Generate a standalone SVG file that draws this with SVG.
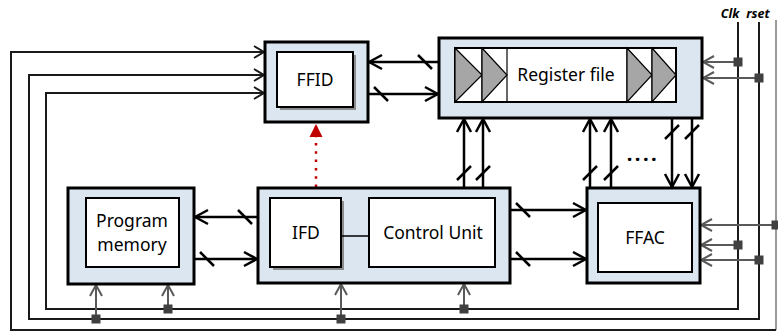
<svg xmlns="http://www.w3.org/2000/svg" width="778" height="335" viewBox="0 0 778 335">
<style>
.outer{fill:#dce6f1;stroke:#000;stroke-width:3}
.inner{fill:#fff;stroke:#000;stroke-width:2}
.shadow{fill:#8c8c8c}
.lbl{font-family:"Noto Sans","Liberation Sans",sans-serif;font-size:17.5px;fill:#000;text-anchor:middle}
.sig{font-family:"Noto Sans","Liberation Sans",sans-serif;font-size:12.5px;font-weight:bold;font-style:italic;fill:#000;text-anchor:middle}
.bus{fill:none;stroke:#000;stroke-width:2.5}
.slash{stroke:#000;stroke-width:2.5}
.loop{fill:none;stroke:#1a1a1a;stroke-width:2}
.gin{fill:none;stroke:#595959;stroke-width:2}
.sq{fill:#404040}
.tri{fill:#a6a6a6;stroke:#000;stroke-width:1.2}
</style>
<defs>
<marker id="ab" markerUnits="userSpaceOnUse" markerWidth="18" markerHeight="18" viewBox="0 0 18 18" refX="16" refY="9" orient="auto">
<path d="M3,2 L16,9 L3,16" fill="none" stroke="#000" stroke-width="2.5"/>
</marker>
<marker id="al" markerUnits="userSpaceOnUse" markerWidth="16" markerHeight="16" viewBox="0 0 16 16" refX="14" refY="8" orient="auto">
<path d="M4,2 L14,8 L4,14" fill="none" stroke="#1a1a1a" stroke-width="2"/>
</marker>
<marker id="ag" markerUnits="userSpaceOnUse" markerWidth="16" markerHeight="16" viewBox="0 0 16 16" refX="14" refY="8" orient="auto">
<path d="M3,2 L14,8 L3,14" fill="none" stroke="#595959" stroke-width="2"/>
</marker>
<marker id="ar" markerUnits="userSpaceOnUse" markerWidth="16" markerHeight="16" viewBox="0 0 16 16" refX="14" refY="8" orient="auto">
<path d="M1,1.5 L14,8 L1,14.5 Z" fill="#c00000"/>
</marker>
</defs>

<g id="connectors">
<path d="M776,20 V330" fill="none" stroke="#9a9a9a" stroke-width="2"/>
<path class="loop" d="M776,330 H11 V52 H264" marker-end="url(#al)"/>
<path class="loop" d="M759,22 V319 H29 V75 H264" marker-end="url(#al)"/>
<path class="loop" d="M738,22 V309 H46 V93 H264" marker-end="url(#al)"/>
<path class="gin" d="M738,62 H703" marker-end="url(#ag)"/>
<path class="gin" d="M759,78 H703" marker-end="url(#ag)"/>
<path class="gin" d="M776,225 H701" marker-end="url(#ag)"/>
<path class="gin" d="M738,245 H701" marker-end="url(#ag)"/>
<path class="gin" d="M759,260 H701" marker-end="url(#ag)"/>
<path class="gin" d="M96,319 V285" marker-end="url(#ag)"/>
<path class="gin" d="M168,309 V285" marker-end="url(#ag)"/>
<path class="gin" d="M341,319 V284" marker-end="url(#ag)"/>
<path class="gin" d="M464,309 V284" marker-end="url(#ag)"/>
<rect class="sq" x="733.5" y="57.5" width="9" height="9"/>
<rect class="sq" x="754.5" y="73.5" width="9" height="9"/>
<rect class="sq" x="771.5" y="220.5" width="9" height="9"/>
<rect class="sq" x="733.5" y="240.5" width="9" height="9"/>
<rect class="sq" x="754.5" y="255.5" width="9" height="9"/>
<rect class="sq" x="91.5" y="314.5" width="9" height="9"/>
<rect class="sq" x="163.5" y="304.5" width="9" height="9"/>
<rect class="sq" x="336.5" y="314.5" width="9" height="9"/>
<rect class="sq" x="459.5" y="304.5" width="9" height="9"/>
<path class="bus" d="M439,62 H369" marker-end="url(#ab)"/>
<line class="slash" x1="418" y1="55" x2="432" y2="69"/>
<path class="bus" d="M368,94 H438" marker-end="url(#ab)"/>
<line class="slash" x1="374" y1="87" x2="388" y2="101"/>
<path class="bus" d="M258,217 H195" marker-end="url(#ab)"/>
<line class="slash" x1="238" y1="210" x2="252" y2="224"/>
<path class="bus" d="M194,259 H257" marker-end="url(#ab)"/>
<line class="slash" x1="200" y1="252" x2="214" y2="266"/>
<path class="bus" d="M510,210 H586" marker-end="url(#ab)"/>
<line class="slash" x1="516" y1="203" x2="530" y2="217"/>
<path class="bus" d="M510,259 H586" marker-end="url(#ab)"/>
<line class="slash" x1="516" y1="252" x2="530" y2="266"/>
<path class="bus" d="M464,188 V119" marker-end="url(#ab)"/>
<line class="slash" x1="457" y1="180" x2="471" y2="166"/>
<path class="bus" d="M483,188 V119" marker-end="url(#ab)"/>
<line class="slash" x1="476" y1="180" x2="490" y2="166"/>
<path class="bus" d="M590,188 V119" marker-end="url(#ab)"/>
<line class="slash" x1="583" y1="180" x2="597" y2="166"/>
<path class="bus" d="M611,188 V119" marker-end="url(#ab)"/>
<line class="slash" x1="604" y1="180" x2="618" y2="166"/>
<path class="bus" d="M672,118 V187" marker-end="url(#ab)"/>
<line class="slash" x1="665" y1="139" x2="679" y2="125"/>
<path class="bus" d="M692,118 V187" marker-end="url(#ab)"/>
<line class="slash" x1="685" y1="139" x2="699" y2="125"/>
<path d="M316,187 V124" fill="none" stroke="#c00000" stroke-width="2.5" stroke-dasharray="2.5 5.8" marker-end="url(#ar)"/>
<text x="643" y="161" class="lbl" style="font-size:20px;font-weight:bold;letter-spacing:2.5px">....</text>
</g>

<g id="ffid">
<rect class="outer" x="265" y="42" width="103" height="80"/>
<rect class="shadow" x="280" y="55" width="76" height="55"/>
<rect class="inner" x="277" y="52" width="76" height="55"/>
<text class="lbl" x="315" y="86">FFID</text>
</g>

<g id="register-file">
<rect class="outer" x="439" y="38" width="263" height="80"/>
<rect class="inner" x="455" y="48" width="221" height="54"/>
<line x1="482" y1="48" x2="482" y2="102" stroke="#000" stroke-width="1.2"/>
<line x1="507" y1="48" x2="507" y2="102" stroke="#000" stroke-width="1.2"/>
<line x1="627" y1="48" x2="627" y2="102" stroke="#000" stroke-width="1.2"/>
<line x1="652" y1="48" x2="652" y2="102" stroke="#000" stroke-width="1.2"/>
<path class="tri" d="M455,48 L482,75 L455,102 Z"/>
<path class="tri" d="M482,48 L507,75 L482,102 Z"/>
<path class="tri" d="M627,48 L652,75 L627,102 Z"/>
<path class="tri" d="M652,48 L676,75 L652,102 Z"/>
<text class="lbl" x="566" y="81">Register file</text>
</g>

<g id="program-memory">
<rect class="outer" x="68" y="188" width="126" height="96"/>
<rect class="inner" x="86" y="198" width="93" height="69"/>
<text class="lbl" x="132" y="227">Program</text>
<text class="lbl" x="132" y="251">memory</text>
</g>

<g id="control">
<rect class="outer" x="258" y="188" width="252" height="95"/>
<rect class="shadow" x="273" y="201" width="71" height="69"/>
<rect class="inner" x="270" y="198" width="71" height="69"/>
<text class="lbl" x="306" y="239">IFD</text>
<line x1="341" y1="236" x2="369" y2="236" stroke="#000" stroke-width="1.5"/>
<rect class="inner" x="369" y="198" width="126" height="69"/>
<text class="lbl" x="433" y="239">Control Unit</text>
</g>

<g id="ffac">
<rect class="outer" x="587" y="188" width="113" height="95"/>
<rect class="inner" x="598" y="203" width="94" height="69"/>
<text class="lbl" x="645" y="244">FFAC</text>
</g>

<g id="labels">
<text class="sig" x="730" y="18">Clk</text>
<text class="sig" x="758" y="18">rset</text>
</g>
</svg>
